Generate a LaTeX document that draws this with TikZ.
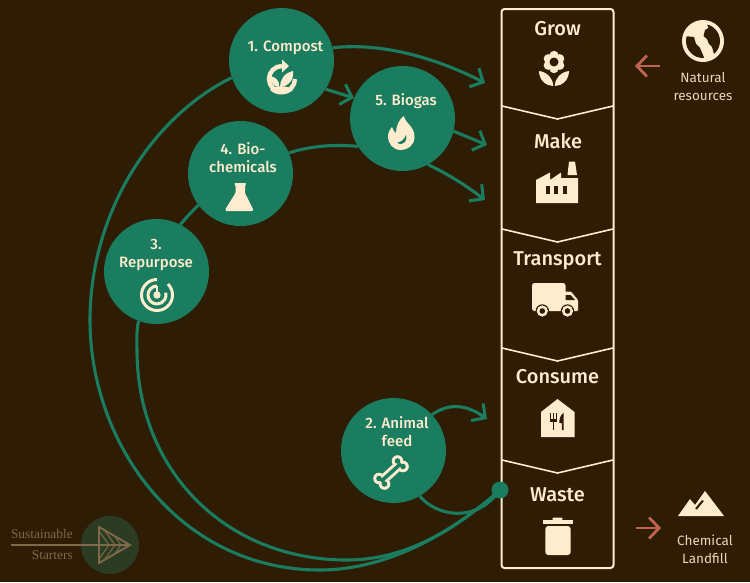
\documentclass[tikz,border=0pt]{standalone}
\usepackage{fontspec}
\setmainfont{Fira Sans}
\newfontfamily\fm{Fira Sans Medium}
\newfontfamily\logofont{Liberation Serif}
\usetikzlibrary{arrows.meta,backgrounds}
\definecolor{bgc}{HTML}{2E1C04}
\definecolor{grn}{HTML}{1A7D60}
\definecolor{crm}{HTML}{FFEBCD}
\definecolor{sal}{HTML}{BF6450}
\definecolor{tan}{HTML}{80694A}
\definecolor{lgrn}{HTML}{2B3C22}
\tikzset{
  hub/.style={circle,fill=grn,minimum size=105pt,inner sep=0pt},
  hublabel/.style={text=crm,align=center,font=\fm\fontsize{15}{18}\selectfont,inner sep=0pt},
  stagelabel/.style={text=crm,font=\fm\fontsize{20}{22}\selectfont,inner sep=0pt},
  sidelabel/.style={text=crm!90!bgc,align=center,font=\fontsize{13.5}{18}\selectfont,inner sep=0pt},
  logolabel/.style={text=tan,font=\logofont\fontsize{13.4}{16}\selectfont,inner sep=0pt,anchor=east},
  flow/.style={draw=grn,line width=3.1pt},
  flowarrow/.style={flow,-{Straight Barb[length=10pt,width=21pt,line width=3.1pt]}},
  ext/.style={draw=sal,line width=2.8pt},
  icon/.style={fill=crm,draw=none},
  iconcut/.style={fill=bgc,draw=none},
}
\begin{document}
\begin{tikzpicture}[x=1pt,y=-1pt]
\useasboundingbox (0,0) rectangle (750,582);
% hubs
\node[hub] (compost) at (281.5,60.5) {};
\node[hub] (biogas) at (402.5,118.5) {};
\node[hub] (bio) at (240.5,173.5) {};
\node[hub] (repurpose) at (156.5,271.5) {};
\node[hub] (animal) at (393.5,450.5) {};
\node[hublabel] (lcompost) at (285.5,47.5) {1. Compost};
\node[hublabel] (lbiogas) at (406,101) {5. Biogas};
\node[hublabel] (lbio) at (243,158) {4. Bio-\\chemicals};
\node[hublabel] (lrep) at (156,254.5) {3.\\Repurpose};
\node[hublabel] (lanimal) at (397,432) {2. Animal\\feed};
% panel
\node[draw=crm,line width=2pt,rounded corners=3pt,minimum width=112pt,minimum height=559pt,inner sep=0pt] (panel) at (557.5,288.5) {};
\foreach \y in {106,229,348,460}{
  \draw[crm,line width=1.6pt] (502,\y) -- (557.5,\y+13) -- (613,\y);
}
\node[stagelabel] (grow) at (557.5,28.5) {Grow};
\node[stagelabel] (make) at (558,141) {Make};
\node[stagelabel] (transport) at (557.5,260.5) {Transport};
\node[stagelabel] (consume) at (557.5,377) {Consume};
\node[stagelabel] (waste) at (557.5,495) {Waste};
\node[circle,fill=grn,minimum size=17pt,inner sep=0pt] (dot) at (500,490) {};
% free ends
\coordinate (t1) at (485,83);
\coordinate (t2) at (487,145);
\coordinate (t3) at (485,200);
\coordinate (t4) at (487,419);
% connectors
\begin{scope}[on background layer]
\fill[bgc] (0,0) rectangle (750,582);
\draw[flowarrow] (compost.14) .. controls (385,42) and (440,60) .. (t1);
\draw[flowarrow] (compost.-33) -- (biogas.157.5);
\draw[flowarrow] (biogas.-14) -- (t2);
\draw[flowarrow] (biogas.-61) .. controls (450,175) and (468,187) .. (t3);
\draw[flow] (bio.23) .. controls (310,146) and (335,144) .. (biogas.212);
\draw[flow] (bio.217) .. controls (192,211) and (186,218) .. (repurpose.63);
\draw[flowarrow] (animal.43) .. controls (446,405) and (463,402) .. (t4);
\draw[flow] (animal.-60) .. controls (435,515) and (475,525) .. (dot.center);
\draw[flow] (compost.199.5) .. controls (150,118) and (90,215) .. (90,320)
  .. controls (90,445) and (180,570) .. (320,570)
  .. controls (385,570) and (450,535) .. (dot.center);
\draw[flow] (repurpose.250) .. controls (136,335) and (137,342) .. (137,350)
  .. controls (137,470) and (225,560) .. (347,560)
  .. controls (410,560) and (460,525) .. (dot.center);
\end{scope}
% compost icon
\draw[crm,line width=4.4pt] (295,79) arc[start angle=0,end angle=270,radius=13];
\fill[icon] (282,59.5) -- (289,66) -- (282,72.5) -- cycle;
\fill[icon] (270,90) .. controls (275,85) and (288,85) .. (293,90) .. controls (286,96) and (276,96) .. (270,90) -- cycle;
\fill[icon] (280,87) .. controls (280,80) and (284,73) .. (293,71) .. controls (294,80) and (289,86) .. (280,87) -- cycle;
\fill[icon] (279,87) .. controls (273,87) and (271,82) .. (270,76) .. controls (276,77) and (280,81) .. (279,87) -- cycle;
% flame
\fill[icon] (403.5,116) .. controls (405,123) and (414.5,126) .. (414.5,137)
  .. controls (414.5,145) and (408,150) .. (401,150)
  .. controls (393,150) and (388,144) .. (388,136)
  .. controls (388,133) and (390,129) .. (392,127)
  .. controls (393,130) and (394,132) .. (396,133)
  .. controls (396,126) and (399,120) .. (403.5,116) -- cycle;
\fill[grn] (406,135) .. controls (407,139) and (406,143) .. (401,144)
  .. controls (399,144) and (398,143.5) .. (397.5,142.5)
  .. controls (401,142) and (404,140) .. (406,135) -- cycle;
% flask
\fill[icon,rounded corners=0.8pt] (234.5,183) -- (246,183) -- (246,185) -- (245,185) -- (245,193) -- (253,209) -- (253,211) -- (225.5,211) -- (225.5,209) -- (235.5,193) -- (235.5,185) -- (234.5,185) -- cycle;
% radar
\begin{scope}[crm,line width=3pt]
\draw (157,279.5) arc[start angle=-90,end angle=-405,radius=15.5];
\draw (157,286) arc[start angle=-90,end angle=-375,radius=9];
\end{scope}
\fill[icon] (157,295) circle[radius=3.7];
\fill[icon] (156,286) rectangle (158,294);
% bone
\foreach \c/\r in {crm/1,grn/0}{
  \begin{scope}
  \ifnum\r=1 \def\lw{9.5pt}\def\rr{5.8}\else \def\lw{3.6pt}\def\rr{2.8}\fi
  \draw[\c,line width=\lw] (381,481.5) -- (401,463.5);
  \fill[\c] (379,478.5) circle[radius=\rr];
  \fill[\c] (384.5,484) circle[radius=\rr];
  \fill[\c] (397.5,461) circle[radius=\rr];
  \fill[\c] (403,466.5) circle[radius=\rr];
  \end{scope}
}
% flower
\foreach \a in {30,90,...,330}{
  \fill[icon] (554,62)++(\a:6.6) circle[radius=4.6];
}
\fill[icon] (554,62) circle[radius=8];
\fill[iconcut] (554,62) circle[radius=4.5];
\fill[icon] (539,71) .. controls (547,72) and (553,78) .. (553.2,86) .. controls (546,86) and (539,80) .. (539,71) -- cycle;
\fill[icon] (569,71) .. controls (561,72) and (555,78) .. (554.8,86) .. controls (562,86) and (569,80) .. (569,71) -- cycle;
% factory
\fill[icon] (536,203) -- (536,180) -- (550,172.5) -- (550,180) -- (561,172.5) -- (561,178) -- (578,178) -- (578,203) -- cycle;
\fill[icon] (569,161.5) -- (575,161.5) -- (577,175) -- (567.5,175) -- cycle;
\fill[iconcut] (546,186) rectangle (550,194);
\fill[iconcut] (554,186) rectangle (558,194);
\fill[iconcut] (562.5,186) rectangle (566.5,194);
% truck
\fill[icon,rounded corners=2.5pt] (532,311) -- (532,283) -- (565.5,283) -- (565.5,311) -- cycle;
\fill[icon,rounded corners=1pt] (565,291.5) -- (571,291.5) -- (578,300) -- (578,311) -- (565,311) -- cycle;
\fill[iconcut] (565.5,295) -- (570.5,295) -- (575,300) -- (565.5,300) -- cycle;
\foreach \x in {542.3,567.5}{
  \fill[iconcut] (\x,311) circle[radius=6.7];
  \fill[icon] (\x,311) circle[radius=5.6];
  \fill[iconcut] (\x,311) circle[radius=2.8];
}
% house
\fill[icon] (557.5,399) -- (574.5,412) -- (574.5,437) -- (541,437) -- (541,412) -- cycle;
\draw[bgc,line width=1.3pt] (550.8,413) -- (550.8,420) (553.5,413) -- (553.5,430) (556.2,413) -- (556.2,420);
\fill[iconcut] (550.1,419) rectangle (556.9,422);
\fill[iconcut] (563.5,413) .. controls (560,415) and (559,420) .. (559.5,423) -- (561.8,423) -- (561.8,430) -- (563.5,430) -- cycle;
% bin
\fill[icon] (543.3,519.5) rectangle (572.7,523.5);
\fill[icon,rounded corners=1.5pt] (552,520) -- (552,517.5) -- (563,517.5) -- (563,520) -- cycle;
\fill[icon,rounded corners=3pt] (545.3,526) -- (570.7,526) -- (570.7,555) -- (545.3,555) -- cycle;
% globe
\fill[icon] (703,41) circle[radius=21];
\begin{scope}
\clip (703,41) circle[radius=17];
\fill[iconcut] (707,24) -- (708.5,28) -- (705,30) -- (703.5,36) -- (707,39) -- (709,44) -- (712,47) -- (714,54) -- (735,50) -- (735,20) -- cycle;
\fill[iconcut] (684,36) -- (694,37) -- (696,44) -- (700,48) -- (703,55) -- (705,60) -- (690,70) -- (675,50) -- cycle;
\end{scope}
% mountains
\fill[icon] (678,516) -- (690,499) -- (695,505) -- (705,491) -- (724,516) -- cycle;
\draw[bgc,line width=2pt] (696,509) -- (703,500.5);
% side labels
\node[sidelabel] (natural) at (703,87) {Natural\\resources};
\node[sidelabel] (landfill) at (705,549) {Chemical\\Landfill};
% salmon arrows
\coordinate (s1a) at (660,66); \coordinate (s1b) at (635,66);
\coordinate (s2a) at (636,528); \coordinate (s2b) at (661,528);
\draw[ext,-{Straight Barb[length=10pt,width=21pt,line width=2.8pt]}] (s1a) -- (s1b);
\draw[ext,-{Straight Barb[length=10pt,width=21pt,line width=2.8pt]}] (s2a) -- (s2b);
% logo
\node[circle,fill=lgrn,minimum size=58pt,inner sep=0pt] (logo) at (110,545) {};
\coordinate (logoa) at (11,545);
\coordinate (logob) at (130,545);
\draw[tan,line width=1.9pt] (logoa) -- (logob);
\draw[tan,line width=1.9pt,line join=miter] (99,527) -- (130,545) -- (99,563) -- cycle;
\begin{scope}
\clip (99,527) -- (130,545) -- (99,563) -- cycle;
\foreach \x in {99,105,111,117,123}{
  \draw[tan,line width=1pt] (\x,531) -- (\x+10,545) -- (\x,559);
}
\end{scope}
\node[logolabel] (sus) at (73,533.5) {Sustainable};
\node[logolabel] (sta) at (73,555) {Starters};
\end{tikzpicture}
\end{document}
